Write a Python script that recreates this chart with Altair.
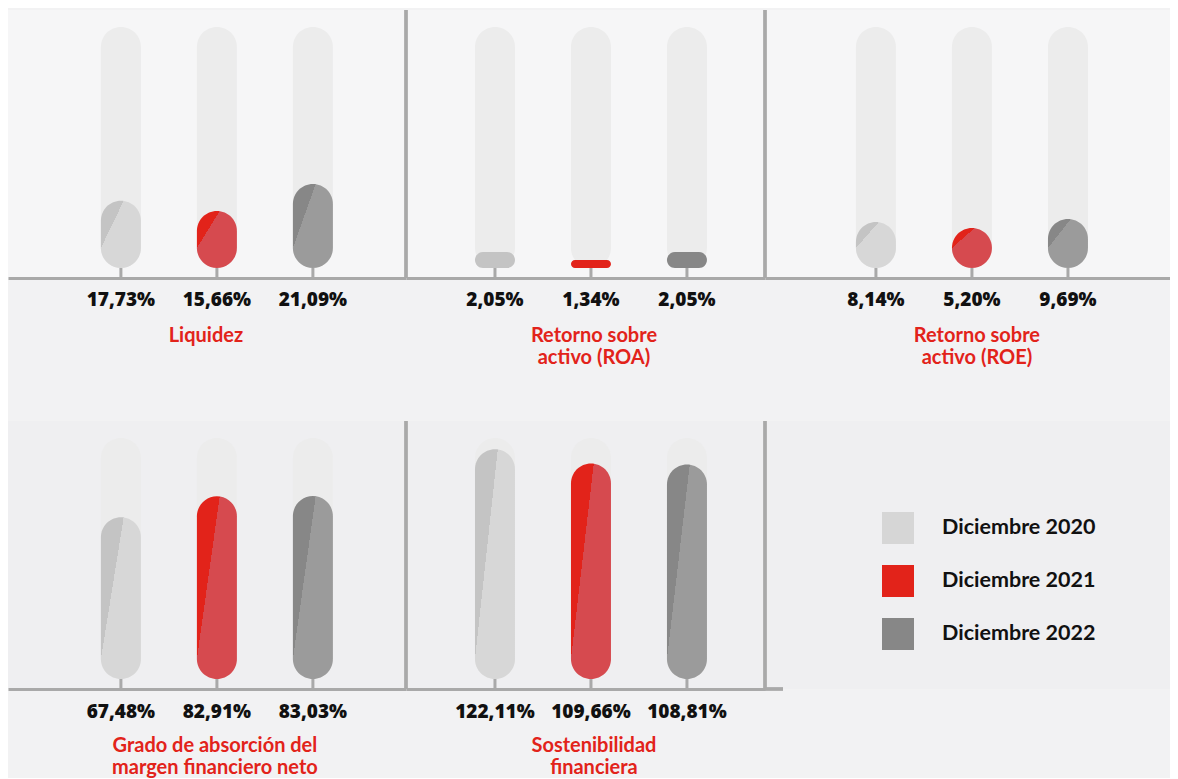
import altair as alt
import pandas as pd

years = ["Diciembre 2020", "Diciembre 2021", "Diciembre 2022"]

titles = [
    "Liquidez",
    "Retorno sobre\nactivo (ROA)",
    "Retorno sobre\nactivo (ROE)",
    "Grado de absorción del\nmargen financiero neto",
    "Sostenibilidad\nfinanciera",
]
liquidez = [17.73, 15.66, 21.09]
roa = [2.05, 1.34, 2.05]
roe = [8.14, 5.20, 9.69]
absorcion = [67.48, 82.91, 83.03]
sostenibilidad = [122.11, 109.66, 108.81]
series = [liquidez, roa, roe, absorcion, sostenibilidad]

# per-panel scale: value at the foot of the bars / value at the top of the tracks
scale_foot = [4.2, 0.63, -14.8, -52.0, -79.4]
scale_head = [52.7, 22.0, 105.7, 125.9, 132.0]
title_dx = [-11, 3, 5, -2, 3]

legend_colors = ["#d6d6d6", "#e2231a", "#878787"]
dark_tone = ["#c4c4c4", "#e2231a", "#878787"]
light_tone = ["#d7d7d7", "#d64a4f", "#9b9b9b"]
track_color = "#ececec"
line_color = "#a9a9a9"
red = "#e2231a"
bg_top, bg_mid, bg_bottom = "#f6f6f7", "#f2f2f3", "#efeff1"

H = 268
TRACK_PX = 241
GAP = 10
BAR_W = 40


def pill_fill(j, h):
    if h < 26:
        return dark_tone[j]
    a = 0.57
    b = 1 - 20.0 / h
    n1, n2 = 1 / a, 1 / b
    k = 0.4
    t = 1 / (k * (n1 * n1 + n2 * n2))
    return alt.LinearGradient(
        gradient="linear",
        x1=0, y1=0, x2=k * n1, y2=k * n2,
        stops=[
            alt.GradientStop(offset=0, color=dark_tone[j]),
            alt.GradientStop(offset=t, color=dark_tone[j]),
            alt.GradientStop(offset=t, color=light_tone[j]),
            alt.GradientStop(offset=1, color=light_tone[j]),
        ],
    )


def fmt(v):
    return f"{v:.2f}".replace(".", ",") + "%"


def panel(i, width, pad_outer, align, sep_left, val_dy, title_dy, fill):
    vals = series[i]
    foot, head = scale_foot[i], scale_head[i]
    ppu = TRACK_PX / (head - foot)
    lo = foot - GAP / ppu
    hi = foot + (H - GAP) / ppu
    df = pd.DataFrame({
        "year": years,
        "value": vals,
        "label": [fmt(v) for v in vals],
        "foot": foot,
        "head": head,
        "floor": lo,
        "title": titles[i],
    })
    x = alt.X(
        "year:N", sort=years,
        scale=alt.Scale(paddingInner=0, paddingOuter=pad_outer, align=align),
        axis=alt.Axis(labels=False, ticks=False, title=None, grid=False,
                      domain=True, domainColor=line_color, domainWidth=3),
    )
    ysc = alt.Scale(domain=[lo, hi], nice=False, zero=False)
    base = alt.Chart(df).encode(x=x)
    layers = []
    layers.append(base.mark_rule(color=line_color, strokeWidth=3).encode(
        y=alt.Y("foot:Q", scale=ysc, axis=None), y2="floor:Q"))
    layers.append(base.mark_bar(width=BAR_W, cornerRadius=20, color=track_color).encode(
        y=alt.Y("head:Q", scale=ysc, axis=None), y2="foot:Q"))
    for j, yr in enumerate(years):
        h = (vals[j] - foot) * ppu
        layers.append(
            base.transform_filter(alt.datum.year == yr)
            .mark_bar(width=BAR_W, cornerRadius=20, color=pill_fill(j, h))
            .encode(y=alt.Y("value:Q", scale=ysc, axis=None), y2="foot:Q")
        )
    layers.append(base.mark_text(font="Open Sans", fontWeight=800, fontSize=19,
                                 color="#111111", baseline="middle").encode(
        text="label:N", y=alt.value(H + val_dy)))
    layers.append(
        base.transform_filter(alt.datum.year == years[1])
        .mark_text(font="Lato", fontWeight="bold", fontSize=20,
                   color=red, baseline="top", lineBreak="\n", lineHeight=22,
                   dx=title_dx[i])
        .encode(text="title:N", y=alt.value(H + title_dy))
    )
    if sep_left:
        layers.append(base.mark_rule(color=line_color, strokeWidth=3).encode(
            x=alt.value(0), y=alt.value(0), y2=alt.value(H)))
    return alt.layer(*layers).properties(
        width=width, height=H, view=alt.ViewBackground(fill=fill, strokeWidth=0))


legend_df = pd.DataFrame({"year": years})
legend_panel = alt.layer(
    alt.Chart(legend_df).mark_square(opacity=0).encode(
        color=alt.Color(
            "year:N", sort=years,
            scale=alt.Scale(domain=years, range=legend_colors),
            legend=alt.Legend(
                title=None, orient="none", legendX=874, legendY=502,
                symbolType="square", symbolSize=1024, symbolStrokeWidth=0,
                symbolOpacity=1, labelFont="Lato", labelFontSize=21.5,
                labelFontWeight="bold", labelColor="#111111", labelOffset=28,
                rowPadding=21, padding=0,
            ),
        )
    ),
    alt.Chart(legend_df).mark_rule(color=line_color, strokeWidth=3).encode(
        x=alt.value(0), y=alt.value(0), y2=alt.value(H)),
    alt.Chart(legend_df).mark_rule(color=line_color, strokeWidth=3).encode(
        x=alt.value(0), x2=alt.value(18), y=alt.value(H)),
).properties(width=405, height=H,
             view=alt.ViewBackground(fill=bg_bottom, strokeWidth=0))

top_row = alt.hconcat(
    panel(0, 398, 0.573, 0.59, False, 22, 48, bg_top),
    panel(1, 359, 0.37, 0.577, True, 22, 48, bg_top),
    panel(2, 405, 0.609, 0.538, True, 22, 48, bg_top),
    spacing=0, bounds="flush",
)
bottom_row = alt.hconcat(
    panel(3, 398, 0.573, 0.59, False, 23, 47, bg_bottom),
    panel(4, 359, 0.37, 0.577, True, 23, 47, bg_bottom),
    legend_panel,
    spacing=0, bounds="flush",
)

chart = (
    alt.vconcat(top_row, bottom_row, spacing=411, bounds="flush")
    .properties(padding=0, background=bg_mid)
    .configure_view(strokeWidth=0)
)

chart.save("out.html", embed_options={"renderer": "svg", "actions": False})
